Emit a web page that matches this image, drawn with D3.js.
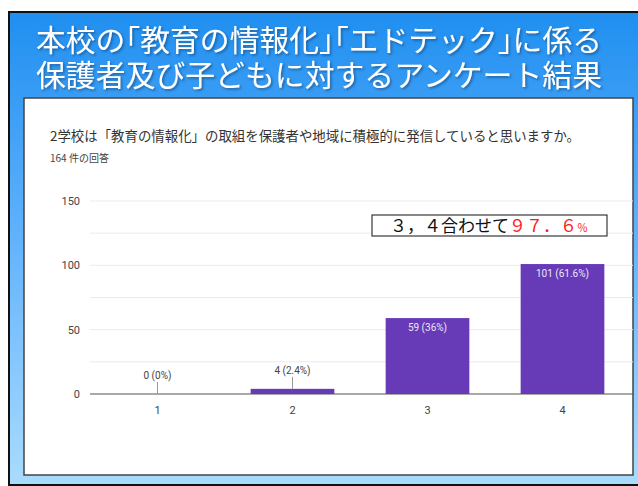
<!DOCTYPE html>
<html>
<head>
<meta charset="utf-8">
<script src="https://cdn.jsdelivr.net/npm/d3@7"></script>
<style>
  body { margin: 0; background: #fff; }
  svg { display: block; }
  .title { font-feature-settings: "halt"; }
</style>
</head>
<body>
<div id="chart"></div>
<script>
const categories = ["1", "2", "3", "4"];
const counts = [0, 4, 59, 101];
const percents = ["0%", "2.4%", "36%", "61.6%"];
const yTicks = [0, 50, 100, 150];
const titleLines = ["本校の「教育の情報化」「エドテック」に係る", "保護者及び子どもに対するアンケート結果"];
const question = "2学校は「教育の情報化」の取組を保護者や地域に積極的に発信していると思いますか。";
const responses = "164 件の回答";

const width = 638, height = 486;
const jp = "'Noto Sans CJK JP', 'Noto Sans', sans-serif";
const num = "Roboto, 'Liberation Sans', Arial, sans-serif";

const svg = d3.select("#chart").append("svg")
  .attr("width", width)
  .attr("height", height);

const defs = svg.append("defs");
const grad = defs.append("linearGradient")
  .attr("id", "bg")
  .attr("x1", 0).attr("y1", 0).attr("x2", 0).attr("y2", 1);
grad.append("stop").attr("offset", "0%").attr("stop-color", "#1f8ff0");
grad.append("stop").attr("offset", "45%").attr("stop-color", "#5eb0fb");
grad.append("stop").attr("offset", "100%").attr("stop-color", "#a9dcfe");

const shadow = defs.append("filter")
  .attr("id", "shadow")
  .attr("x", "-5%").attr("y", "-20%")
  .attr("width", "110%").attr("height", "150%");
shadow.append("feDropShadow")
  .attr("dx", 1.5).attr("dy", 1.5)
  .attr("stdDeviation", 0.8)
  .attr("flood-color", "#0a3a6a")
  .attr("flood-opacity", 0.6);

// Blue slide background
svg.append("rect")
  .attr("x", 9).attr("y", 12)
  .attr("width", 640).attr("height", 473)
  .attr("fill", "url(#bg)")
  .attr("stroke", "#111")
  .attr("stroke-width", 2);

// Title, brackets half width
svg.append("g")
  .attr("filter", "url(#shadow)")
  .selectAll("text")
  .data(titleLines)
  .join("text")
  .attr("class", "title")
  .attr("x", 36)
  .attr("y", (d, i) => 51 + i * 35)
  .attr("font-family", "'Liberation Sans', 'Noto Sans CJK JP', sans-serif")
  .attr("font-size", 29.5)
  .attr("fill", "#ffffff")
  .attr("textLength", 566)
  .attr("lengthAdjust", "spacingAndGlyphs")
  .text(d => d);

// White panel
svg.append("rect")
  .attr("x", 24).attr("y", 98)
  .attr("width", 609).attr("height", 377)
  .attr("fill", "#fff")
  .attr("stroke", "#444")
  .attr("stroke-width", 1.5);

svg.append("text")
  .attr("x", 50).attr("y", 141)
  .attr("font-family", jp)
  .attr("font-size", 13.5)
  .attr("fill", "#333")
  .attr("textLength", 530)
  .attr("lengthAdjust", "spacingAndGlyphs")
  .text(question);

svg.append("text")
  .attr("x", 50).attr("y", 162)
  .attr("font-family", jp)
  .attr("font-size", 10)
  .attr("fill", "#444")
  .text(responses);

// Scales
const x = d3.scaleBand()
  .domain(categories)
  .range([90, 630])
  .paddingInner(0.38)
  .paddingOuter(0.19);

const y = d3.scaleLinear()
  .domain([0, 150])
  .range([394, 201]);

// Gridlines (major and minor)
svg.append("g")
  .selectAll("line")
  .data(d3.range(25, 151, 25))
  .join("line")
  .attr("x1", 90).attr("x2", 633)
  .attr("y1", d => y(d)).attr("y2", d => y(d))
  .attr("stroke", "#ebebeb")
  .attr("stroke-width", 1);

// Y axis labels
svg.append("g")
  .selectAll("text")
  .data(yTicks)
  .join("text")
  .attr("x", 80)
  .attr("y", d => y(d) + 4)
  .attr("text-anchor", "end")
  .attr("font-family", num)
  .attr("font-size", 11)
  .attr("fill", "#444")
  .text(d => d);

// Bars
const bars = categories.map((c, i) => ({ cat: c, n: counts[i], pct: percents[i] }));

svg.append("g")
  .selectAll("rect")
  .data(bars)
  .join("rect")
  .attr("x", d => x(d.cat))
  .attr("y", d => y(d.n))
  .attr("width", x.bandwidth())
  .attr("height", d => y(0) - y(d.n))
  .attr("fill", "#673ab7");

// Baseline
svg.append("line")
  .attr("x1", 90).attr("x2", 633)
  .attr("y1", y(0)).attr("y2", y(0))
  .attr("stroke", "#555")
  .attr("stroke-width", 1.2);

// Bar value labels
const lab = svg.append("g");
bars.forEach(d => {
  const cx = x(d.cat) + x.bandwidth() / 2;
  const h = y(0) - y(d.n);
  const txt = `${d.n} (${d.pct})`;
  if (h > 20) {
    lab.append("text")
      .attr("x", cx).attr("y", y(d.n) + 13)
      .attr("text-anchor", "middle")
      .attr("font-family", num)
      .attr("font-size", 10)
      .attr("fill", "#ece6f6")
      .text(txt);
  } else {
    lab.append("line")
      .attr("x1", cx).attr("x2", cx)
      .attr("y1", y(d.n) - 12).attr("y2", y(d.n))
      .attr("stroke", "#999")
      .attr("stroke-width", 1);
    lab.append("text")
      .attr("x", cx).attr("y", y(d.n) - 15)
      .attr("text-anchor", "middle")
      .attr("font-family", num)
      .attr("font-size", 10)
      .attr("fill", "#444")
      .text(txt);
  }
});

// X axis labels
svg.append("g")
  .selectAll("text")
  .data(categories)
  .join("text")
  .attr("x", d => x(d) + x.bandwidth() / 2)
  .attr("y", 414)
  .attr("text-anchor", "middle")
  .attr("font-family", num)
  .attr("font-size", 11)
  .attr("fill", "#444")
  .text(d => d);

// Annotation box
svg.append("rect")
  .attr("x", 372).attr("y", 215)
  .attr("width", 235).attr("height", 21)
  .attr("fill", "#fff")
  .attr("stroke", "#111")
  .attr("stroke-width", 1);

const note = svg.append("text")
  .attr("x", 390).attr("y", 232)
  .attr("font-family", jp)
  .attr("font-size", 17)
  .attr("fill", "#111");
note.append("tspan").text("３，４合わせて");
note.append("tspan").attr("fill", "#ff1a1a").text("９７．６");
note.append("tspan").attr("fill", "#ff1a1a").attr("font-size", 11).text("％");
</script>
</body>
</html>
